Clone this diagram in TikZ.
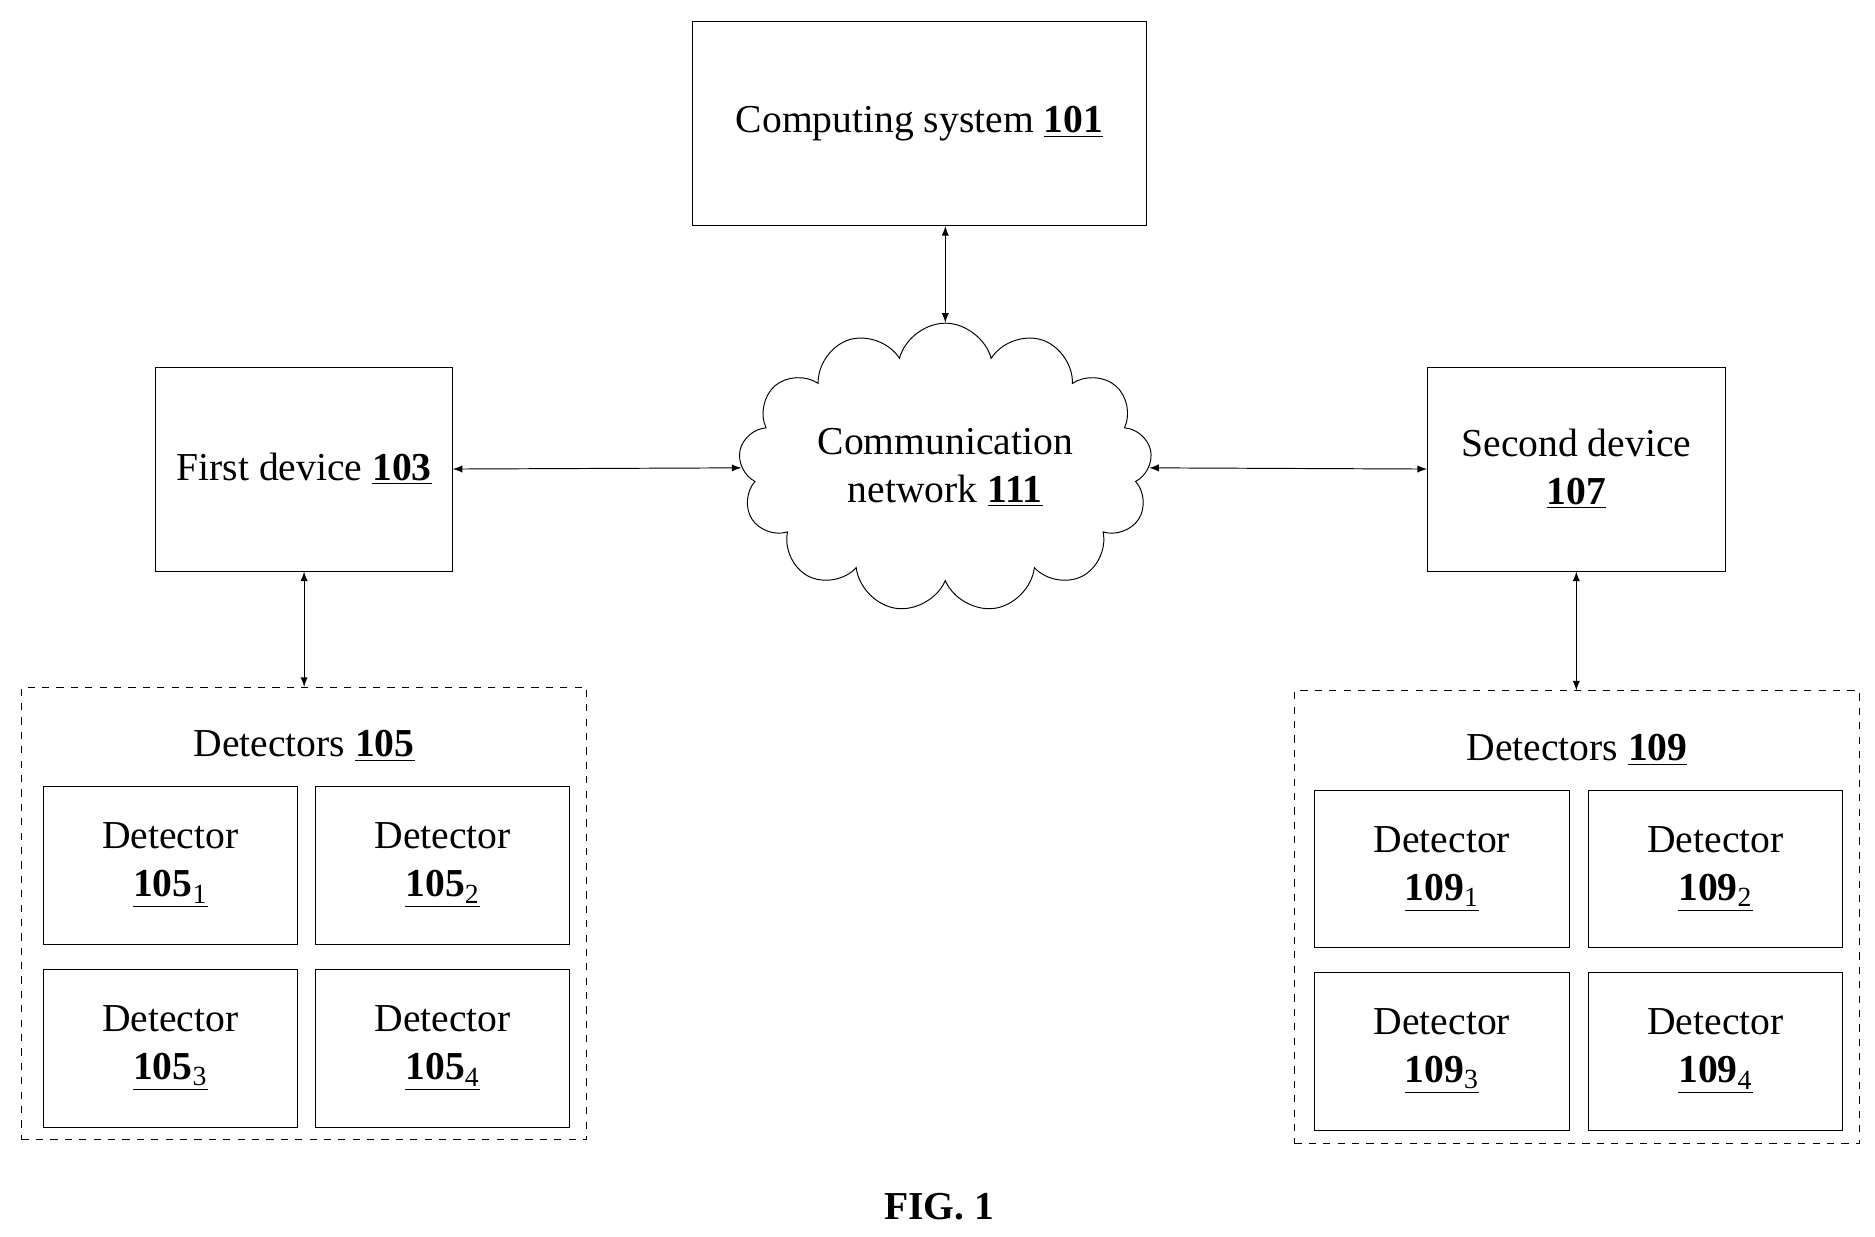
\documentclass[tikz,border=0pt]{standalone}
\usepackage{fontspec}
\setmainfont{Liberation Serif}
\usetikzlibrary{arrows,shapes.symbols}
\newcommand{\refnum}[1]{\underline{\textbf{#1}}}
\newcommand{\subref}[2]{\underline{\textbf{#1}\textsubscript{#2}}}
\tikzset{
    box/.style={draw, thin, align=center, inner sep=0pt},
    group/.style={draw, thin, dashed, inner sep=0pt},
    link/.style={<->, >=latex, thin}
}
\begin{document}
\begin{tikzpicture}[x=0.5pt, y=-0.5pt, font=\fontsize{16.5}{20}\selectfont]
    % Page frame
    \useasboundingbox (0,0) rectangle (1563,1031);

    % Computing system and network
    \node[box, minimum width=189.5pt, minimum height=85pt] (Comp) at (766.5,103) {Computing system \refnum{101}};
    \node[cloud, draw, thin, cloud puffs=13, aspect=1.7, minimum width=165pt, minimum height=98pt, align=center] (Net) at (788,390) {Communication\\network \refnum{111}};

    % Devices
    \node[box, minimum width=123.5pt, minimum height=85pt] (Dev1) at (253.5,391) {First device \refnum{103}};
    \node[box, minimum width=124pt, minimum height=85pt] (Dev2) at (1314,391) {Second device\\\refnum{107}};

    % Detector groups
    \node[group, minimum width=235.5pt, minimum height=188.5pt] (Grp1) at (253.5,761.5) {};
    \node[anchor=center] (Grp1T) at (253.5,622) {Detectors \refnum{105}};
    \node[group, minimum width=235.5pt, minimum height=188.5pt] (Grp2) at (1314.5,764.5) {};
    \node[anchor=center] (Grp2T) at (1314.5,625) {Detectors \refnum{109}};

    % Single detectors
    \foreach \n/\x/\y in {1/142/721.5, 2/369/721.5, 3/142/874, 4/369/874}
        \node[box, minimum width=106pt, minimum height=65.5pt] (D1\n) at (\x,\y) {Detector\\\subref{105}{\n}};
    \foreach \n/\x/\y in {1/1202/724.5, 2/1430/724.5, 3/1202/876.5, 4/1430/876.5}
        \node[box, minimum width=106pt, minimum height=65.5pt] (D2\n) at (\x,\y) {Detector\\\subref{109}{\n}};

    % Connections
    \draw[link] (Comp.south -| Net.north) -- (Net.north);
    \draw[link] (Dev1.east) -- (Net.west);
    \draw[link] (Net.east) -- (Dev2.west);
    \draw[link] (Dev1.south) -- (Grp1.north);
    \draw[link] (Dev2.south) -- (Grp2.north -| Dev2.south);

    % Caption
    \node[font=\fontsize{16.5}{20}\selectfont\bfseries] (Cap) at (783,1006) {FIG. 1};
\end{tikzpicture}
\end{document}
